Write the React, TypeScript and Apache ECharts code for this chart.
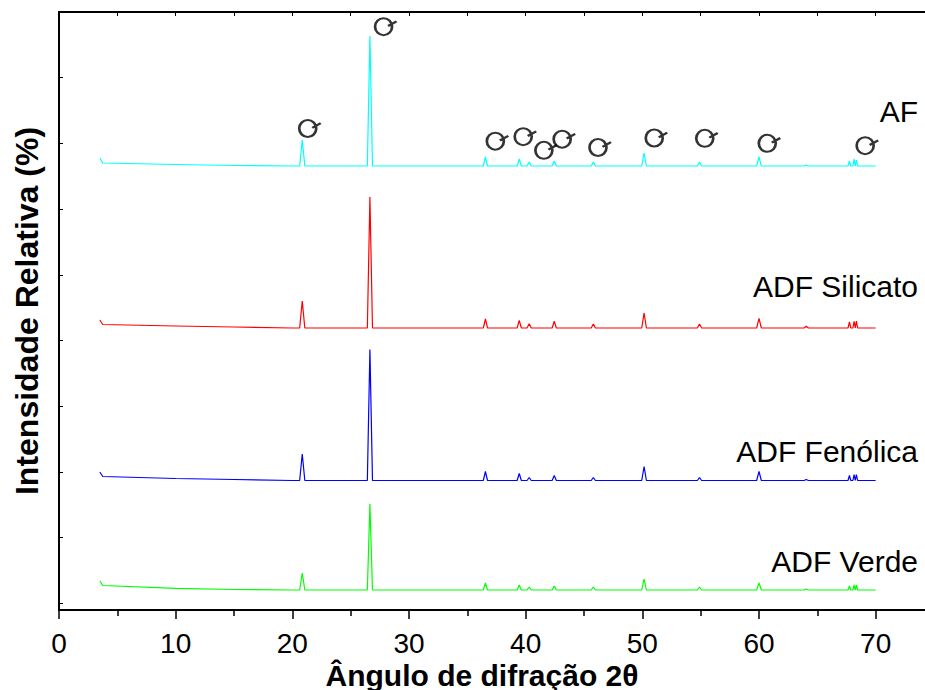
import React, { useEffect, useRef } from "react";
import * as echarts from "echarts";

// ---- Data ----
// Peak positions (2θ, degrees) shared by all four patterns
const PEAK_POS = [20.85, 26.65, 36.55, 39.45, 40.3, 42.45, 45.8, 50.15, 54.9, 60.0, 64.05, 67.75, 68.15, 68.35];
const PEAK_HALF_WIDTH = [0.22, 0.22, 0.18, 0.18, 0.18, 0.18, 0.18, 0.2, 0.18, 0.2, 0.18, 0.12, 0.1, 0.1];

// Peak heights above the baseline (arbitrary units, stacked offsets)
const H_AF = [26, 130, 9, 7, 4, 5, 4, 13, 4, 9, 1, 5, 7, 6];
const H_SILICATO = [27, 131, 9, 7.7, 4.3, 6.7, 4, 15, 4, 9.7, 1.7, 6, 6.7, 7];
const H_FENOLICA = [26.5, 131, 9, 7, 3, 5, 3, 14, 3, 9, 1, 5, 6, 6];
const H_VERDE = [17, 86, 7, 5, 3, 4, 3, 11, 3, 7, 1, 4, 5, 5];

// Baselines (2θ, intensity) from the start of the scan to 20°
const BASE_AF = [[3.5, 452], [3.75, 447], [10, 445.5], [15, 444.5], [20, 444]];
const BASE_SILICATO = [[3.5, 290], [3.75, 285.5], [10, 284], [15, 283], [20, 282]];
const BASE_FENOLICA = [[3.5, 138], [3.75, 133.5], [10, 131.5], [15, 130.5], [20, 129.5]];
const BASE_VERDE = [[3.5, 29], [3.75, 24.5], [10, 21.7], [15, 20.5], [20, 20]];
const SCAN_END = 70;

// Quartz ("Q") markers
const Q_X = [21.32, 27.82, 37.4, 39.79, 41.56, 43.13, 46.2, 51.02, 55.35, 60.71, 69.1];
const Q_Y = [481.5, 583.3, 468.8, 473.3, 459.7, 470.8, 462.5, 472, 471.7, 466.7, 464.3];

const SERIES_NAMES = ["AF", "ADF Silicato", "ADF Fenólica", "ADF Verde"];
const SERIES_COLORS = ["#00FFFF", "#FF0000", "#0000FF", "#00FF00"];

const X_TITLE = "Ângulo de difração 2θ";
const Y_TITLE = "Intensidade Relativa (%)";

const FONT = '"Liberation Sans", Arial, Helvetica, sans-serif';

function buildPattern(base: number[][], heights: number[]): number[][] {
  const pts: number[][] = base.map((p) => [p[0], p[1]]);
  const flat = base[base.length - 1][1];
  PEAK_POS.forEach((p, i) => {
    const w = PEAK_HALF_WIDTH[i];
    pts.push([p - w, flat], [p, flat + heights[i]], [p + w, flat]);
  });
  pts.push([SCAN_END, flat]);
  return pts;
}

const Q_SYMBOL =
  "path://M0.5,9 A8.5,8.5 0 1,1 17.5,9 A8.5,8.5 0 1,1 0.5,9 Z M13.5,8.3 L22,3.7";

export default function App() {
  const ref = useRef<HTMLDivElement>(null);

  useEffect(() => {
    document.body.style.margin = "0";
    document.body.style.overflow = "hidden";
    const chart = echarts.init(ref.current!, null, { renderer: "svg" });

    const patterns = [
      buildPattern(BASE_AF, H_AF),
      buildPattern(BASE_SILICATO, H_SILICATO),
      buildPattern(BASE_FENOLICA, H_FENOLICA),
      buildPattern(BASE_VERDE, H_VERDE),
    ];

    const labelY = [111, 286, 451, 561];

    const option: any = {
      animation: false,
      backgroundColor: "#fff",
      grid: { left: 59, right: 0, top: 12, bottom: 80, containLabel: false },
      xAxis: [
        {
          type: "value",
          min: 0,
          max: 75,
          interval: 10,
          position: "bottom",
          axisLine: { onZero: false, lineStyle: { color: "#000", width: 2 } },
          axisTick: { inside: false, length: 9, lineStyle: { color: "#000", width: 1.5 } },
          minorTick: { show: true, splitNumber: 2, length: 6, lineStyle: { color: "#000", width: 1.5 } },
          axisLabel: { fontSize: 28, color: "#000", margin: 19, fontFamily: FONT, showMaxLabel: false },
          splitLine: { show: false },
        },
        {
          type: "value",
          min: 0,
          max: 75,
          interval: 5,
          position: "top",
          axisLine: { onZero: false, lineStyle: { color: "#000", width: 2 } },
          axisTick: { inside: true, length: 4, lineStyle: { color: "#000", width: 1 } },
          axisLabel: { show: false },
          splitLine: { show: false },
        },
      ],
      yAxis: [
        { type: "value", min: 0, max: 598, show: false },
        {
          type: "value",
          min: 0,
          max: 9.102,
          interval: 1,
          inverse: true,
          position: "left",
          axisLine: { show: true, onZero: false, lineStyle: { color: "#000", width: 2 } },
          axisTick: { inside: true, length: 4, lineStyle: { color: "#000", width: 1 } },
          axisLabel: { show: false },
          splitLine: { show: false },
        },
      ],
      series: [
        ...patterns.map((data, i) => ({
          name: SERIES_NAMES[i],
          type: "line",
          xAxisIndex: 0,
          yAxisIndex: 0,
          data,
          showSymbol: false,
          symbol: "none",
          lineStyle: { color: SERIES_COLORS[i], width: 1.2 },
          silent: true,
          z: 2,
        })),
        {
          name: "Q",
          type: "scatter",
          xAxisIndex: 0,
          yAxisIndex: 0,
          data: Q_X.map((x, i) => [x, Q_Y[i]]),
          symbol: Q_SYMBOL,
          symbolSize: [21.5, 17],
          symbolOffset: [2.25, 0],
          itemStyle: { color: "transparent", borderColor: "#000", borderWidth: 2.4 },
          silent: true,
          z: 3,
        },
      ],
      graphic: [
        ...SERIES_NAMES.map((name, i) => ({
          type: "text",
          x: 918,
          y: labelY[i],
          style: {
            text: name,
            fill: "#000",
            font: `30px ${FONT}`,
            align: "right",
            verticalAlign: "middle",
            textAlign: "right",
            textVerticalAlign: "middle",
          },
          silent: true,
        })),
        {
          type: "text",
          x: 482,
          y: 675,
          style: {
            text: X_TITLE,
            fill: "#000",
            font: `bold 30px ${FONT}`,
            align: "center",
            verticalAlign: "middle",
            textAlign: "center",
            textVerticalAlign: "middle",
          },
          silent: true,
        },
        {
          type: "text",
          x: 27,
          y: 311,
          rotation: Math.PI / 2,
          style: {
            text: Y_TITLE,
            fill: "#000",
            font: `bold 32px ${FONT}`,
            align: "center",
            verticalAlign: "middle",
            textAlign: "center",
            textVerticalAlign: "middle",
          },
          silent: true,
        },
      ],
    };

    chart.setOption(option);
    return () => chart.dispose();
  }, []);

  return <div ref={ref} style={{ width: 934, height: 690 }} />;
}
